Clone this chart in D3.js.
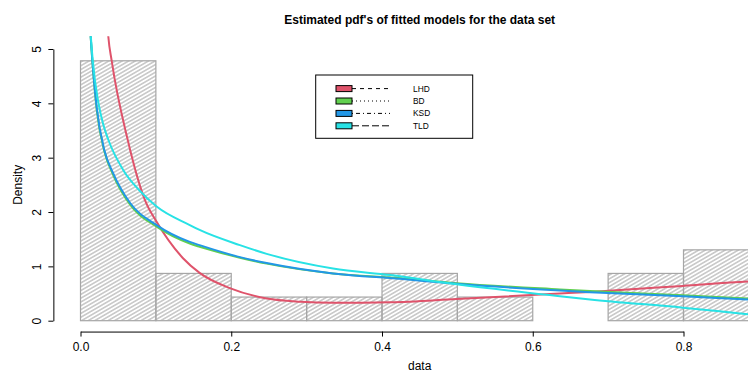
<!DOCTYPE html>
<html>
<head>
<meta charset="utf-8">
<script src="https://cdn.jsdelivr.net/npm/d3@7"></script>
<style>
  body { margin: 0; background: #fff; }
  svg { display: block; font-family: "Liberation Sans", Arial, Helvetica, sans-serif; }
</style>
</head>
<body>
<svg id="svg"></svg>
<script>
// histogram of the data set (density scale)
var breaks = [0, 0.1, 0.2, 0.3, 0.4, 0.5, 0.6, 0.7, 0.8, 0.9];
var densities = [4.783, 0.870, 0.435, 0.435, 0.870, 0.435, 0, 0.870, 1.304];

var xTicks = [0, 0.2, 0.4, 0.6, 0.8];
var yTicks = [0, 1, 2, 3, 4, 5];

var modelNames = ["LHD", "BD", "KSD", "TLD"];
var modelColors = ["#DF536B", "#61D04F", "#2297E6", "#28E2E5"];
var legendDashes = ["4,4", "1,3", "1,3,4,3", "7,3"];

// fitted pdfs
var lhdX = [0.035, 0.0369, 0.0414, 0.0626, 0.0855, 0.101, 0.136, 0.158, 0.198, 0.247, 0.292, 0.335, 0.411, 0.499, 0.636, 0.676, 0.799, 0.885, 0.9];
var lhdY = [5.6, 5.23, 4.78, 3.33, 2.22, 1.82, 1.15, 0.88, 0.60, 0.41, 0.35, 0.33, 0.34, 0.40, 0.50, 0.53, 0.64, 0.72, 0.73];

var bdX = [0.010, 0.0135, 0.0157, 0.0215, 0.0316, 0.0431, 0.0656, 0.101, 0.145, 0.158, 0.2115, 0.247, 0.335, 0.424, 0.499, 0.636, 0.676, 0.799, 0.885, 0.9];
var bdY = [6.0, 5.23, 4.78, 3.88, 3.12, 2.69, 2.14, 1.73, 1.42, 1.36, 1.16, 1.05, 0.87, 0.78, 0.69, 0.575, 0.545, 0.47, 0.41, 0.40];

var ksdX = [0.010, 0.0135, 0.0157, 0.0215, 0.0316, 0.0431, 0.0656, 0.101, 0.145, 0.158, 0.2115, 0.247, 0.335, 0.424, 0.499, 0.636, 0.676, 0.799, 0.885, 0.9];
var ksdY = [6.0, 5.23, 4.78, 3.92, 3.14, 2.72, 2.17, 1.76, 1.45, 1.39, 1.17, 1.06, 0.87, 0.77, 0.68, 0.555, 0.525, 0.45, 0.39, 0.38];

var tldX = [0.011, 0.0135, 0.0163, 0.0236, 0.0300, 0.0369, 0.0568, 0.0780, 0.101, 0.145, 0.158, 0.2115, 0.247, 0.335, 0.411, 0.499, 0.636, 0.676, 0.799, 0.885, 0.9];
var tldY = [6.0, 5.28, 4.78, 4.02, 3.62, 3.33, 2.77, 2.40, 2.10, 1.76, 1.67, 1.39, 1.23, 0.96, 0.84, 0.67, 0.45, 0.39, 0.24, 0.12, 0.10];

var curves = [[lhdX, lhdY], [bdX, bdY], [ksdX, ksdY], [tldX, tldY]];

var width = 748, height = 372;

var svg = d3.select("#svg")
    .attr("width", width)
    .attr("height", height);

// scales (R style: 4% extension around the data range)
var x = d3.scaleLinear()
    .domain([0, 0.8])
    .range([80.5, 683.5]);
var y = d3.scaleLinear()
    .domain([0, 5])
    .range([320.7, 49]);

var plotLeft = x(-0.036), plotRight = x(0.936);
var plotTop = y(5.2), plotBottom = y(-0.2);

var defs = svg.append("defs");
defs.append("clipPath")
    .attr("id", "plotclip")
  .append("rect")
    .attr("x", plotLeft)
    .attr("y", plotTop - 2)
    .attr("width", plotRight - plotLeft)
    .attr("height", plotBottom - plotTop + 2);

// hatch fill for the histogram
var hatch = defs.append("pattern")
    .attr("id", "hatch")
    .attr("patternUnits", "userSpaceOnUse")
    .attr("width", 20)
    .attr("height", 3.3)
    .attr("patternTransform", "rotate(-30)");
hatch.append("line")
    .attr("x1", 0).attr("x2", 20)
    .attr("y1", 1.65).attr("y2", 1.65)
    .attr("stroke", "#9e9e9e")
    .attr("stroke-width", 0.9);

var plot = svg.append("g").attr("clip-path", "url(#plotclip)");

var bins = densities.map(function(d, i) {
  return {x0: breaks[i], x1: breaks[i + 1], density: d};
});

plot.selectAll("rect.bar")
    .data(bins)
  .enter().append("rect")
    .attr("class", "bar")
    .attr("x", function(d) { return x(d.x0); })
    .attr("y", function(d) { return y(d.density); })
    .attr("width", function(d) { return x(d.x1) - x(d.x0); })
    .attr("height", function(d) { return y(0) - y(d.density); })
    .attr("fill", "url(#hatch)")
    .attr("stroke", "#a6a6a6")
    .attr("stroke-width", 1.2);

// fitted pdf curves
var line = d3.line()
    .curve(d3.curveMonotoneX)
    .x(function(d) { return x(d[0]); })
    .y(function(d) { return y(d[1]); });

curves.forEach(function(c, i) {
  var pts = c[0].map(function(v, j) { return [v, c[1][j]]; });
  plot.append("path")
      .datum(pts)
      .attr("fill", "none")
      .attr("stroke", modelColors[i])
      .attr("stroke-width", 2)
      .attr("d", line);
});

// axes
var xAxis = svg.append("g")
    .attr("transform", "translate(0," + plotBottom + ")")
    .call(d3.axisBottom(x).tickValues(xTicks).tickFormat(d3.format(".1f")).tickSize(5).tickSizeOuter(0));
xAxis.select(".domain").attr("stroke", "#000");
xAxis.selectAll(".tick line").attr("stroke", "#000");
xAxis.selectAll(".tick text")
    .attr("y", 11)
    .attr("dy", "0.71em")
    .attr("fill", "#000")
    .style("font-size", "12px")
    .style("font-family", "Liberation Sans, Arial, sans-serif");

var yAxis = svg.append("g")
    .attr("transform", "translate(" + plotLeft + ",0)")
    .call(d3.axisLeft(y).tickValues(yTicks).tickFormat(d3.format("d")).tickSize(5).tickSizeOuter(0));
yAxis.select(".domain").attr("stroke", "#000");
yAxis.selectAll(".tick line").attr("stroke", "#000");
yAxis.selectAll(".tick text")
    .attr("transform", "rotate(-90)")
    .attr("x", 0)
    .attr("y", -12)
    .attr("dy", 0)
    .attr("text-anchor", "middle")
    .attr("fill", "#000")
    .style("font-size", "12px")
    .style("font-family", "Liberation Sans, Arial, sans-serif");

// titles
var midX = (plotLeft + plotRight) / 2;
svg.append("text")
    .attr("x", midX)
    .attr("y", 23.5)
    .attr("text-anchor", "middle")
    .style("font-size", "12px")
    .style("font-weight", "bold")
    .text("Estimated pdf's of fitted models for the data set");

svg.append("text")
    .attr("x", midX)
    .attr("y", 370)
    .attr("text-anchor", "middle")
    .style("font-size", "12px")
    .text("data");

svg.append("text")
    .attr("transform", "translate(22," + ((plotTop + plotBottom) / 2) + ") rotate(-90)")
    .attr("text-anchor", "middle")
    .style("font-size", "12px")
    .text("Density");

// legend
var legend = svg.append("g");
legend.append("rect")
    .attr("x", 315.7)
    .attr("y", 75)
    .attr("width", 157)
    .attr("height", 63.3)
    .attr("fill", "#fff")
    .attr("stroke", "#000")
    .attr("stroke-width", 1);

var rowY = d3.scalePoint().domain(modelNames).range([88.6, 125.8]);

modelNames.forEach(function(name, i) {
  var ry = rowY(name);
  legend.append("line")
      .attr("x1", 352).attr("x2", 390)
      .attr("y1", ry).attr("y2", ry)
      .attr("stroke", "#000")
      .attr("stroke-width", 1)
      .attr("stroke-dasharray", legendDashes[i]);
  legend.append("rect")
      .attr("x", 336)
      .attr("y", ry - 3)
      .attr("width", 16)
      .attr("height", 6)
      .attr("fill", modelColors[i])
      .attr("stroke", "#000")
      .attr("stroke-width", 1);
  legend.append("text")
      .attr("x", 413)
      .attr("y", ry + 3)
      .style("font-size", "8.4px")
      .text(name);
});
</script>
</body>
</html>
